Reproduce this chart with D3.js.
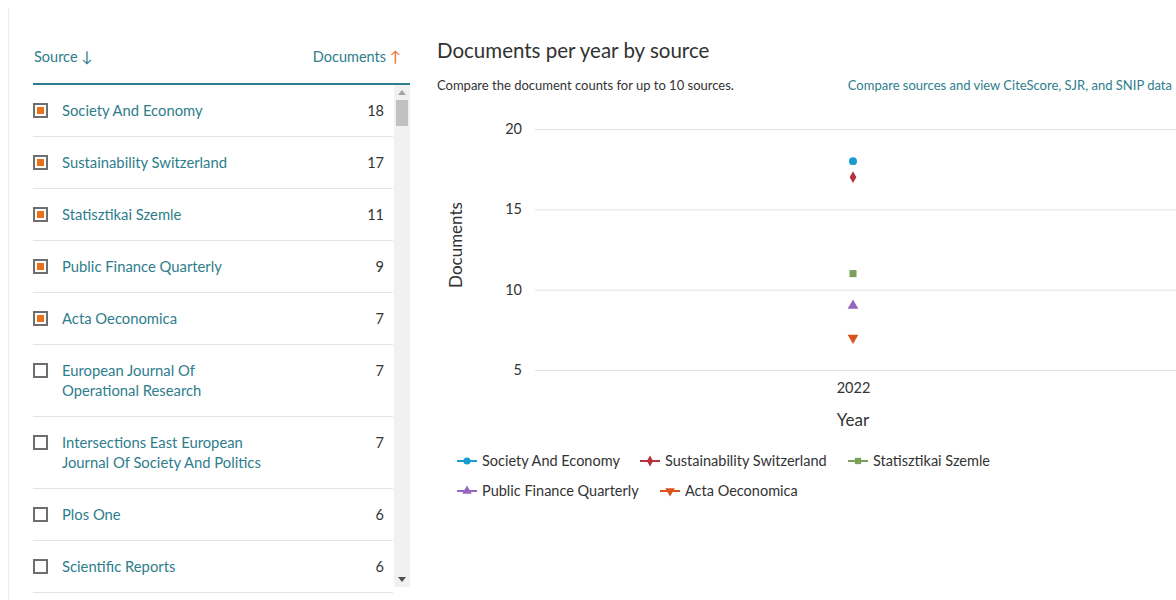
<!DOCTYPE html>
<html>
<head>
<meta charset="utf-8">
<script src="https://cdn.jsdelivr.net/npm/d3@7"></script>
<style>
  body { margin: 0; background: #fff; }
  svg { font-family: Lato, "Open Sans", sans-serif; display: block; }
</style>
</head>
<body>
<div id="chart"></div>
<script>
// Source table (left panel)
const sourceNames = [
    ["Society And Economy"],
    ["Sustainability Switzerland"],
    ["Statisztikai Szemle"],
    ["Public Finance Quarterly"],
    ["Acta Oeconomica"],
    ["European Journal Of", "Operational Research"],
    ["Intersections East European", "Journal Of Society And Politics"],
    ["Plos One"],
    ["Scientific Reports"]
];
const sourceCounts = [18, 17, 11, 9, 7, 7, 7, 6, 6];
const sourceChecked = [true, true, true, true, true, false, false, false, false];

// Chart series (selected sources)
const years = ["2022"];
const seriesNames = ["Society And Economy", "Sustainability Switzerland", "Statisztikai Szemle",
    "Public Finance Quarterly", "Acta Oeconomica"];
const seriesValues = [[18], [17], [11], [9], [7]];
const seriesColors = ["#1a9bd0", "#b3343f", "#7ba05b", "#9467bd", "#d9541a"];
const seriesSymbols = [d3.symbolCircle, d3.symbolDiamond, d3.symbolSquare, d3.symbolTriangle, d3.symbolTriangle];
const seriesRotate = [0, 0, 0, 0, 180];
const yTicks = [5, 10, 15, 20];

const width = 1176;
const height = 600;
const teal = "#2e7d8c";
const orange = "#e9711c";

let svg = d3.select("#chart").append("svg")
    .attr("width", width)
    .attr("height", height);

// ---------- left panel ----------
svg.append("line")
    .attr("x1", 8.5).attr("x2", 8.5).attr("y1", 8).attr("y2", height)
    .attr("stroke", "#eeeeee");

svg.append("text")
    .attr("x", 34).attr("y", 62)
    .attr("fill", teal).attr("font-size", 14.5)
    .text("Source ")
    .append("tspan").attr("font-size", 15).text("↓");

let docHead = svg.append("text")
    .attr("x", 401).attr("y", 62)
    .attr("text-anchor", "end")
    .attr("fill", teal).attr("font-size", 14.5);
docHead.append("tspan").text("Documents ");
docHead.append("tspan").attr("fill", orange).attr("font-size", 15).text("↑");

svg.append("line")
    .attr("x1", 33).attr("x2", 410).attr("y1", 84).attr("y2", 84)
    .attr("stroke", teal).attr("stroke-width", 2);

// row positions from line counts
let rowTop = 85;
const rows = sourceNames.map((lines, i) => {
    const h = lines.length > 1 ? 72 : 52;
    const r = { lines: lines, count: sourceCounts[i], checked: sourceChecked[i], top: rowTop, h: h };
    rowTop += h;
    return r;
});

let rowG = svg.selectAll(".row")
    .data(rows)
    .enter()
    .append("g")
    .attr("class", "row")
    .attr("transform", d => "translate(0," + d.top + ")");

rowG.append("rect")
    .attr("x", 34).attr("y", 19).attr("width", 13).attr("height", 13)
    .attr("fill", "#fff").attr("stroke", "#6e6e6e").attr("stroke-width", 2);

rowG.filter(d => d.checked).append("rect")
    .attr("x", 37).attr("y", 22).attr("width", 7).attr("height", 7)
    .attr("fill", orange);

rowG.each(function (d) {
    d3.select(this).selectAll(".name")
        .data(d.lines)
        .enter()
        .append("text")
        .attr("class", "name")
        .attr("x", 62)
        .attr("y", (l, j) => 31 + j * 20)
        .attr("fill", teal)
        .attr("font-size", 14.8)
        .text(l => l);
});

rowG.append("text")
    .attr("x", 384).attr("y", 31)
    .attr("text-anchor", "end")
    .attr("fill", "#333").attr("font-size", 14.5)
    .text(d => d.count);

rowG.append("line")
    .attr("x1", 33).attr("x2", 393)
    .attr("y1", d => d.h - 0.5).attr("y2", d => d.h - 0.5)
    .attr("stroke", "#e4e4e4");

// scrollbar
svg.append("rect").attr("x", 394).attr("y", 85).attr("width", 16).attr("height", 502).attr("fill", "#f1f1f1");
svg.append("rect").attr("x", 396).attr("y", 100).attr("width", 12).attr("height", 26).attr("fill", "#c1c1c1");
svg.append("path").attr("d", "M398,95 L402,90 L406,95 Z").attr("fill", "#a3a3a3");
svg.append("path").attr("d", "M398,577 L402,582 L406,577 Z").attr("fill", "#505050");

// ---------- chart ----------
svg.append("text")
    .attr("x", 437).attr("y", 58)
    .attr("fill", "#323232").attr("font-size", 20.5)
    .text("Documents per year by source");

svg.append("text")
    .attr("x", 437).attr("y", 90)
    .attr("fill", "#333").attr("font-size", 13)
    .text("Compare the document counts for up to 10 sources.");

svg.append("text")
    .attr("x", 1172).attr("y", 90)
    .attr("text-anchor", "end")
    .attr("fill", teal).attr("font-size", 13)
    .text("Compare sources and view CiteScore, SJR, and SNIP data");

const plotLeft = 535;
const plotRight = 1171;

let xScale = d3.scalePoint()
    .domain(years)
    .range([plotLeft, plotRight])
    .padding(0.5);

let yScale = d3.scaleLinear()
    .domain([5, 20])
    .range([370, 129]);

// gridlines + tick labels
let yAxis = d3.axisLeft(yScale)
    .tickValues(yTicks)
    .tickSize(-(width - plotLeft))
    .tickPadding(13);

let yAxisG = svg.append("g")
    .attr("transform", "translate(" + plotLeft + ",0)")
    .call(yAxis);
yAxisG.select(".domain").remove();
yAxisG.selectAll(".tick line").attr("stroke", "#e2e2e2");
yAxisG.selectAll(".tick text")
    .attr("fill", "#333").attr("font-size", 14.5)
    .attr("font-family", "Lato, sans-serif");

let xAxis = d3.axisBottom(xScale).tickSize(0).tickPadding(0);
let xAxisG = svg.append("g")
    .attr("transform", "translate(0,383)")
    .call(xAxis);
xAxisG.select(".domain").remove();
xAxisG.selectAll(".tick text")
    .attr("fill", "#333").attr("font-size", 14.5)
    .attr("font-family", "Lato, sans-serif");

svg.append("text")
    .attr("x", xScale("2022")).attr("y", 426)
    .attr("text-anchor", "middle")
    .attr("fill", "#333").attr("font-size", 17)
    .text("Year");

svg.append("text")
    .attr("transform", "translate(462,245) rotate(-90)")
    .attr("text-anchor", "middle")
    .attr("fill", "#333").attr("font-size", 17)
    .text("Documents");

// points
const points = [];
seriesNames.forEach((name, i) => {
    seriesValues[i].forEach((v, j) => {
        points.push({ i: i, year: years[j], value: v });
    });
});

svg.selectAll(".pt")
    .data(points)
    .enter()
    .append("path")
    .attr("class", "pt")
    .attr("d", d => d3.symbol().type(seriesSymbols[d.i]).size(d.i === 1 ? 40 : 50)())
    .attr("transform", d => "translate(" + xScale(d.year) + "," + yScale(d.value) + ") rotate(" + seriesRotate[d.i] + ")")
    .attr("fill", d => seriesColors[d.i]);

// legend
const legendPos = [[457, 466], [640, 466], [848, 466], [457, 496], [660, 496]];

let legG = svg.selectAll(".leg")
    .data(seriesNames)
    .enter()
    .append("g")
    .attr("class", "leg")
    .attr("transform", (d, i) => "translate(" + legendPos[i][0] + "," + legendPos[i][1] + ")");

legG.append("line")
    .attr("x1", 0).attr("x2", 20).attr("y1", -5).attr("y2", -5)
    .attr("stroke", (d, i) => seriesColors[i]).attr("stroke-width", 2);

legG.append("path")
    .attr("d", (d, i) => d3.symbol().type(seriesSymbols[i]).size(i === 1 ? 34 : 40)())
    .attr("transform", (d, i) => "translate(10,-5) rotate(" + seriesRotate[i] + ")")
    .attr("fill", (d, i) => seriesColors[i]);

legG.append("text")
    .attr("x", 25).attr("y", 0)
    .attr("fill", "#333").attr("font-size", 14.5)
    .text(d => d);
</script>
</body>
</html>
